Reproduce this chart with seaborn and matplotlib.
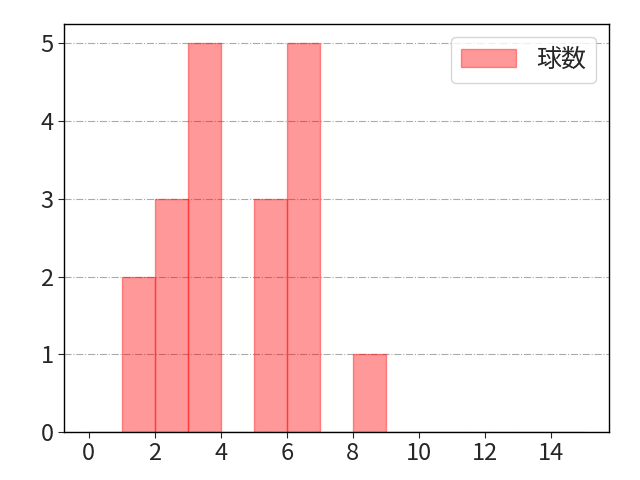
import numpy as np
import pandas as pd
import matplotlib
matplotlib.use('Agg')
import matplotlib.pyplot as plt
import seaborn as sns

# 投球数ごとの件数
bin_starts = [1, 2, 3, 5, 6, 8]
counts = [2, 3, 5, 3, 5, 1]
bin_edges = list(range(0, 16))
label = '球数'

sns.set_style('white')
plt.rcParams['font.family'] = ['Noto Sans CJK JP', 'DejaVu Sans']

df = pd.DataFrame({'x': bin_starts, 'n': counts})

fig, ax = plt.subplots(figsize=(6.4, 4.8), dpi=100)
sns.histplot(data=df, x='x', weights='n', bins=bin_edges, color=(1, 0, 0, 0.4),
             alpha=0.4, edgecolor=(1, 0, 0, 0.4), linewidth=1, label=label, ax=ax)

ax.set_xlim(-0.75, 15.75)
ax.set_xticks(range(0, 16, 2))
ax.set_xlabel('')
ax.set_ylabel('')
ax.grid(axis='y', linestyle='-.', color='#aaaaaa', linewidth=0.8)
ax.set_axisbelow(True)
ax.tick_params(labelsize=17, left=True, bottom=True, length=4)
for s in ax.spines.values():
    s.set_color('black')
    s.set_linewidth(1)
ax.legend(loc='upper right', fontsize=18, handlelength=2.2)

fig.subplots_adjust(left=0.1, right=0.951, top=0.95, bottom=0.1)
plt.savefig('out.png')
